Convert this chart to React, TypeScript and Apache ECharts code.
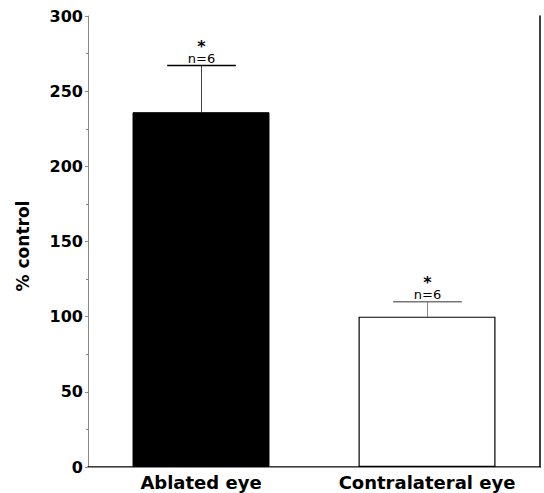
import React, { useEffect, useRef } from "react";
import * as echarts from "echarts";

const categories = ["Ablated eye", "Contralateral eye"];
const means = [236, 100];
const errorTops = [267, 110];
const nLabels = ["n=6", "n=6"];
const sigMarks = ["*", "*"];
const yTicks = [0, 50, 100, 150, 200, 250, 300];

const FONT = "'DejaVu Sans', Verdana, sans-serif";

export default function App() {
  const ref = useRef<HTMLDivElement>(null);
  useEffect(() => {
    if (!ref.current) return;
    const chart = echarts.init(ref.current, null, { renderer: "svg" });
    chart.setOption({
      animation: false,
      grid: { left: 88, right: 4, top: 16, bottom: 26, containLabel: false },
      xAxis: [
        {
          type: "category",
          data: categories,
          axisLine: { lineStyle: { color: "#000", width: 1.5 } },
          axisTick: { show: false },
          axisLabel: {
            color: "#000",
            fontFamily: FONT,
            fontWeight: "bold",
            fontSize: 18,
            margin: 6,
            interval: 0,
            hideOverlap: false,
          },
        },
        {
          type: "category",
          data: categories,
          position: "top",
          axisLine: { lineStyle: { color: "#888", width: 1 } },
          axisTick: { show: false },
          axisLabel: { show: false },
        },
      ],
      yAxis: [
        {
          type: "value",
          min: 0,
          max: 300,
          interval: 50,
          name: "% control",
          nameLocation: "middle",
          nameGap: 57,
          nameTextStyle: {
            color: "#000",
            fontFamily: FONT,
            fontWeight: "bold",
            fontSize: 17,
            padding: [0, 9, 0, 0],
          },
          axisLine: { show: true, lineStyle: { color: "#888", width: 1 } },
          axisTick: { show: true, length: 3, lineStyle: { color: "#888" } },
          minorTick: { show: true, splitNumber: 2, length: 2, lineStyle: { color: "#888" } },
          splitLine: { show: false },
          axisLabel: {
            color: "#000",
            fontFamily: FONT,
            fontWeight: "bold",
            fontSize: 16,
            margin: 5,
            formatter: (v: number) => (yTicks.includes(v) ? String(v) : ""),
          },
        },
        {
          type: "value",
          min: 0,
          max: 300,
          position: "right",
          axisLine: { show: true, lineStyle: { color: "#000", width: 1.5 } },
          axisTick: { show: false },
          axisLabel: { show: false },
          splitLine: { show: false },
        },
      ],
      series: [
        {
          type: "bar",
          data: means.map((v, i) => ({
            value: v,
            itemStyle:
              i === 0
                ? { color: "#000", borderColor: "#000", borderWidth: 1 }
                : { color: "#fff", borderColor: "#000", borderWidth: 1.2 },
          })),
          barWidth: "60.6%",
          silent: true,
        },
        {
          type: "custom",
          silent: true,
          data: errorTops.map((v, i) => [i, means[i], v]),
          renderItem: (params: any, api: any) => {
            const i = api.value(0);
            const base = api.coord([i, api.value(1)]);
            const top = api.coord([i, api.value(2)]);
            const band = api.size([1, 0])[0];
            const half = band * 0.152;
            const x = Math.round(base[0]) + 0.5;
            return {
              type: "group",
              children: [
                {
                  type: "line",
                  shape: { x1: x, y1: base[1], x2: x, y2: top[1] },
                  style: { stroke: i === 0 ? "#444" : "#888", lineWidth: 1 },
                },
                {
                  type: "line",
                  shape: { x1: x - half, y1: top[1], x2: x + half, y2: top[1] },
                  style: { stroke: i === 0 ? "#000" : "#777", lineWidth: 1.5 },
                },
                {
                  type: "text",
                  x: x,
                  y: top[1] - 1,
                  style: {
                    text: `{s|${sigMarks[i]}}\n{n|${nLabels[i]}}`,
                    align: "center",
                    verticalAlign: "bottom",
                    rich: {
                      s: {
                        fill: "#000",
                        fontFamily: FONT,
                        fontWeight: "bold",
                        fontSize: 16,
                        lineHeight: 10,
                        align: "center",
                      },
                      n: {
                        fill: "#000",
                        fontFamily: FONT,
                        fontSize: 13,
                        lineHeight: 13,
                        align: "center",
                      },
                    },
                  },
                },
              ],
            };
          },
        },
      ],
    });
    return () => chart.dispose();
  }, []);
  return <div ref={ref} style={{ width: 544, height: 493, position: "absolute", left: 0, top: 0 }} />;
}
